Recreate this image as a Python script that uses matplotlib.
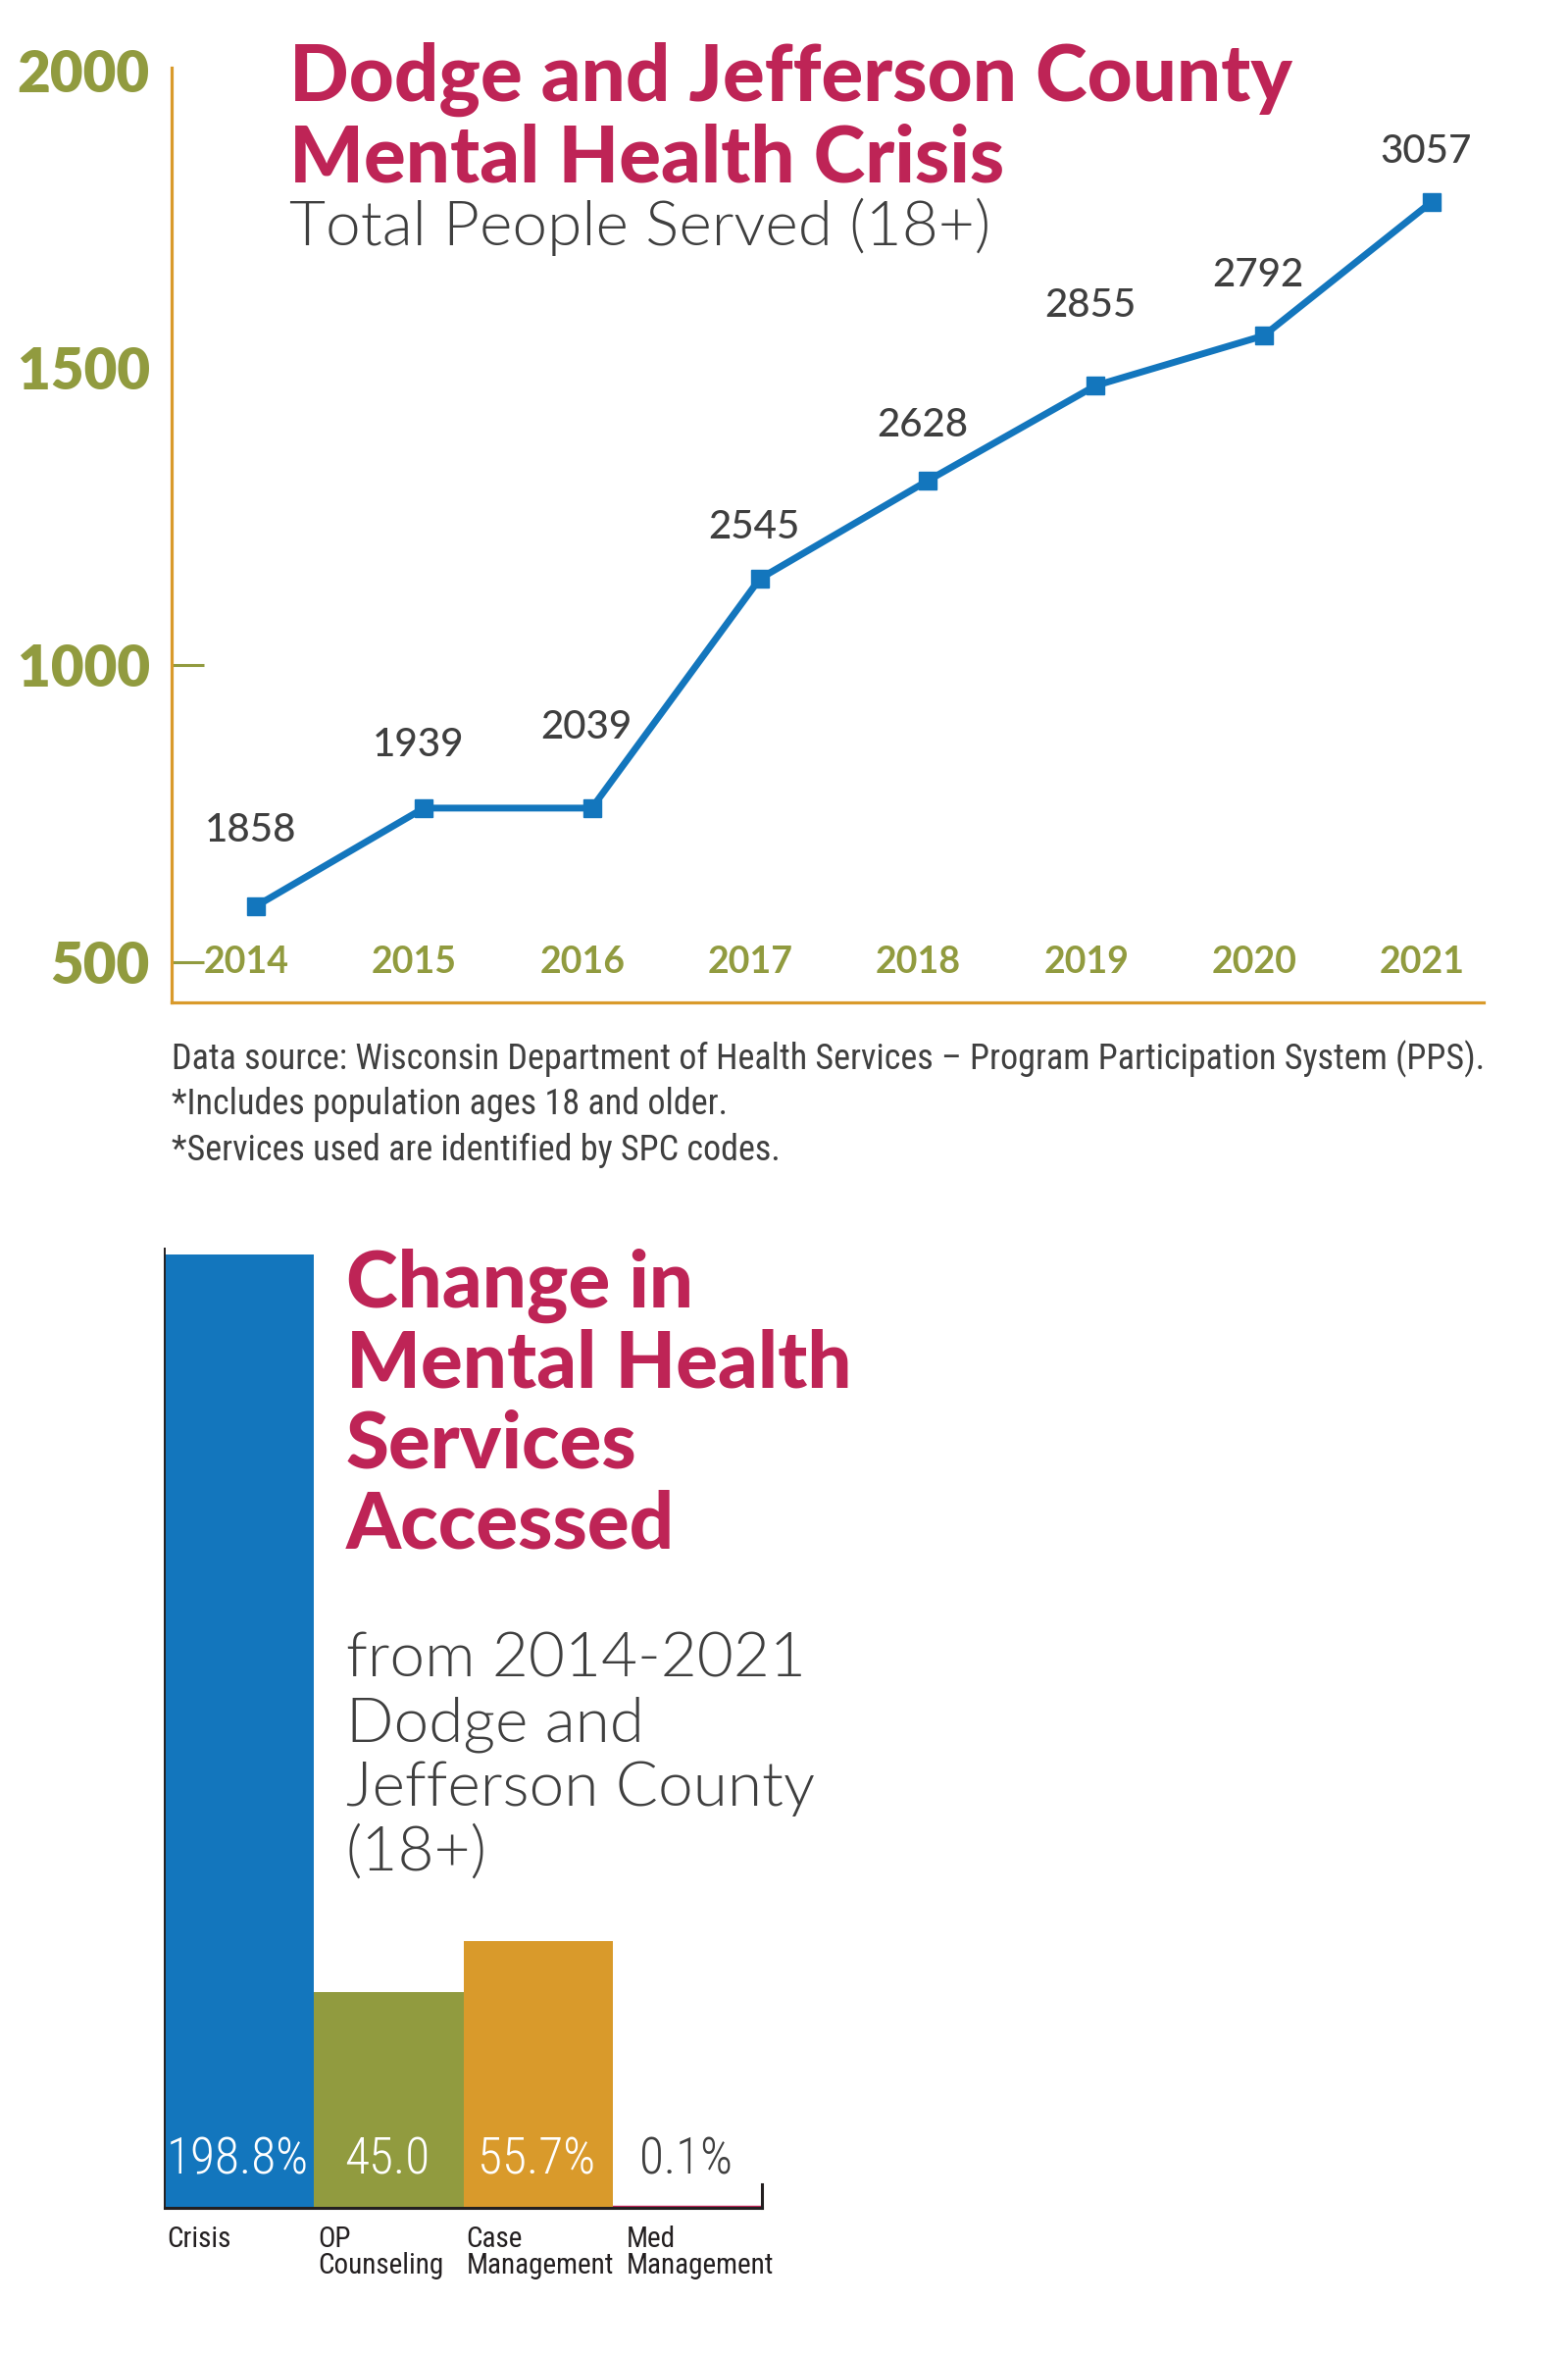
import matplotlib
matplotlib.use("Agg")
import matplotlib.pyplot as plt

# --- data ---
years = ["2014", "2015", "2016", "2017", "2018", "2019", "2020", "2021"]
# height of each point as drawn on the chart's 500-2000 axis
plotted = [594, 759, 759, 1145, 1310, 1470, 1554, 1779]
# numbers printed above the points
people_served = [1858, 1939, 2039, 2545, 2628, 2855, 2792, 3057]
y_ticks = [500, 1000, 1500, 2000]

services = ["Crisis", "OP\nCounseling", "Case\nManagement", "Med\nManagement"]
pct_change = [198.8, 45.0, 55.7, 0.1]
pct_labels = ["198.8%", "45.0", "55.7%", "0.1%"]

# --- style ---
W, H = 1599, 2400
BLUE = "#1376BD"
OLIVE = "#919B3F"
GOLD = "#D99A2B"
CRIMSON = "#BE2456"
DARK = "#3F3F3F"
INK = "#231F20"
TITLE_FONT = ["Lato", "DejaVu Sans"]
NARROW = ["Roboto Condensed", "PT Sans Narrow", "DejaVu Sans"]

# vertical offsets (px) of each value label above its point
label_dy = [77, 64, 82, 53, 57, 82, 62, 51]
# horizontal offsets (pt) of the category labels from the bar's left edge
cat_dx = [1.5, 3, 2, 10]


def fx(x):
    return x / W


def fy(y):
    return 1 - y / H


fig = plt.figure(figsize=(W / 100, H / 100), dpi=100)

# ---------------- line chart ----------------
ax = fig.add_axes([fx(175), fy(1022), fx(1513 - 175), (1022 - 69) / H])
xs = list(range(len(years)))
ax.plot(xs, plotted, color=BLUE, lw=5, marker="s", ms=13.5, zorder=3)
ax.set_xlim(-0.502, 7.31)
ax.set_ylim(432, 2005)

for sp in ["top", "right"]:
    ax.spines[sp].set_visible(False)
for sp in ["left", "bottom"]:
    ax.spines[sp].set_color(GOLD)
    ax.spines[sp].set_linewidth(2.3)

ax.set_xticks([])
ax.set_yticks(y_ticks)
ax.set_yticklabels([str(t) for t in y_ticks], family=TITLE_FONT, fontweight=800,
                   fontsize=42, color=OLIVE)
ax.tick_params(axis="y", direction="in", length=24, width=2.2, color=OLIVE, pad=16)
for t in ax.yaxis.get_major_ticks()[2:]:
    t.tick1line.set_visible(False)

for i, yr in enumerate(years):
    ax.annotate(yr, (i, y_ticks[0]), xytext=(-7, 0), textcoords="offset points",
                ha="center", va="center", fontsize=27, fontweight=700,
                family=TITLE_FONT, color=OLIVE)

for i, (v, lab) in enumerate(zip(plotted, people_served)):
    ax.annotate(str(lab), (i, v), xytext=(-4, label_dy[i] * 0.72), textcoords="offset points",
                ha="center", va="center", fontsize=29, fontweight=500,
                family=TITLE_FONT, color=DARK)

# titles
for k, line in enumerate(["Dodge and Jefferson County", "Mental Health Crisis"]):
    fig.text(fx(295), fy(103 + 82 * k), line, fontsize=57.5, fontweight=900,
             family=TITLE_FONT, color=CRIMSON, va="baseline")
fig.text(fx(295), fy(250), "Total People Served (18+)", fontsize=46, fontweight=300,
         family=TITLE_FONT, color=DARK, va="baseline")

notes = ["Data source: Wisconsin Department of Health Services \u2013 Program Participation System (PPS).",
         "*Includes population ages 18 and older.",
         "*Services used are identified by SPC codes."]
for k, line in enumerate(notes):
    fig.text(fx(175), fy(1080 + 46.5 * k), line, fontsize=26, fontweight=400,
             family=NARROW, color=DARK, va="center")

# ---------------- bar chart ----------------
bx = fig.add_axes([fx(168), fy(2251), fx(777 - 168), (2251 - 1273) / H])
bar_colors = [BLUE, OLIVE, GOLD, CRIMSON]
bpos = list(range(len(services)))
bx.bar(bpos, pct_change, width=1.0, color=bar_colors, edgecolor=bar_colors,
       linewidth=[0, 0, 0, 3.2], zorder=2)
bx.set_xlim(-0.5, 3.5)
bx.set_ylim(0, 200)
bx.set_xticks([])
bx.set_yticks([])
bx.spines["top"].set_visible(False)
for sp in ["left", "bottom", "right"]:
    bx.spines[sp].set_color(INK)
bx.spines["left"].set_linewidth(1.4)
bx.spines["bottom"].set_linewidth(2.2)
bx.spines["right"].set_linewidth(2.2)
bx.spines["right"].set_bounds(0, 5)

for i, lab in enumerate(pct_labels):
    bx.annotate(lab, (i, 0), xytext=(-1, 35), textcoords="offset points",
                ha="center", va="center", fontsize=37, fontweight=300, family=NARROW,
                color="white" if i < 3 else DARK)
    bx.annotate(services[i], (i - 0.5, 0), xytext=(cat_dx[i], -13), textcoords="offset points",
                ha="left", va="top", fontsize=21, fontweight=400, family=NARROW,
                color=INK, linespacing=0.97)

for k, line in enumerate(["Change in", "Mental Health", "Services", "Accessed"]):
    fig.text(fx(353), fy(1333 + 81.7 * k), line, fontsize=57.5, fontweight=900,
             family=TITLE_FONT, color=CRIMSON, va="baseline")
for k, line in enumerate(["from 2014-2021", "Dodge and", "Jefferson County", "(18+)"]):
    fig.text(fx(353), fy(1710 + 65.7 * k), line, fontsize=46, fontweight=300,
             family=TITLE_FONT, color=DARK, va="baseline")

fig.savefig("out.png", dpi=100, facecolor="white")
